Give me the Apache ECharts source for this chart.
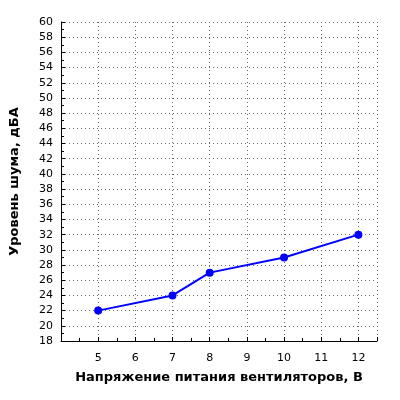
<!DOCTYPE html><html><head><meta charset="utf-8"><script src="https://cdn.jsdelivr.net/npm/echarts@6/dist/echarts.min.js"></script></head><body style="margin:0"><div id="c" style="width:400px;height:400px"></div><script>
const xs=[5,7,8,10,12];
const ys=[22,24,27,29,32];
const ch=echarts.init(document.getElementById('c'));
const f='DejaVu Sans';
ch.setOption({animation:false,grid:{left:57,right:23,top:22,bottom:59},
xAxis:{type:'value',min:4,max:12.5,interval:1,name:'Напряжение питания вентиляторов, В',nameLocation:'middle',nameGap:30,nameTextStyle:{fontFamily:f,fontWeight:'bold',fontSize:13,color:'#000'},
axisLine:{onZero:false,lineStyle:{color:'#000'}},axisTick:{inside:true,length:4,lineStyle:{color:'#000'}},minorTick:{show:true,splitNumber:2,length:3,lineStyle:{color:'#000'}},
axisLabel:{fontFamily:f,fontSize:11,color:'#000',margin:12,formatter:v=>v<5?'':v},splitLine:{lineStyle:{type:[1,3],color:'#666'}}},
yAxis:{type:'value',min:18,max:60,interval:2,name:'Уровень шума, дБА',nameLocation:'middle',nameGap:40,nameTextStyle:{fontFamily:f,fontWeight:'bold',fontSize:13,color:'#000'},
axisLine:{show:true,lineStyle:{color:'#000'}},axisTick:{inside:true,length:4,lineStyle:{color:'#000'}},minorTick:{show:true,splitNumber:2,length:3,lineStyle:{color:'#000'}},
axisLabel:{fontFamily:f,fontSize:11,color:'#000'},splitLine:{lineStyle:{type:[1,3],color:'#666'}}},
series:[{type:'line',data:xs.map((x,i)=>[x,ys[i]]),symbol:'circle',symbolSize:8,itemStyle:{color:'#0000ff'},lineStyle:{color:'#0000ff',width:2}}]});
</script></body></html>
